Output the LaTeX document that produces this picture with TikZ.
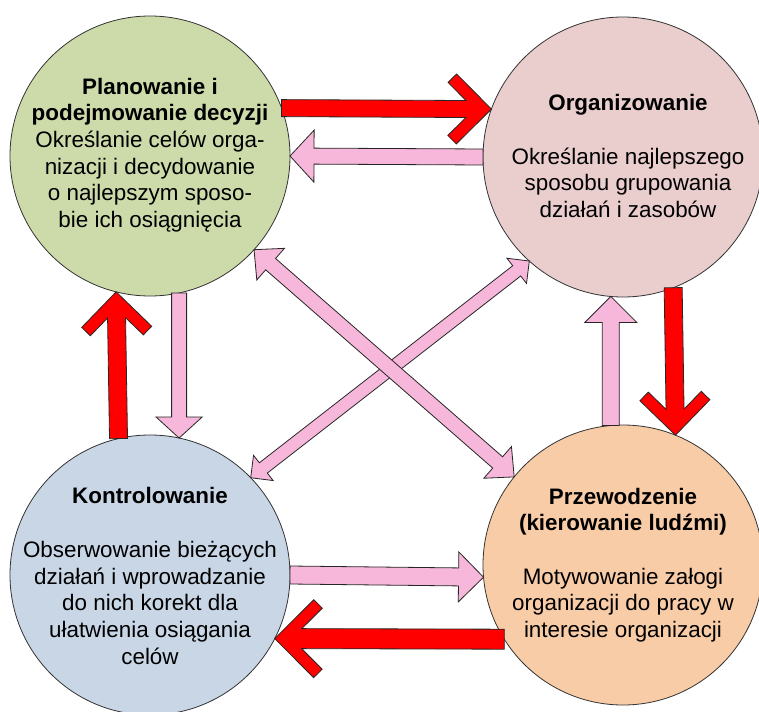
\documentclass[tikz,border=0pt]{standalone}
\usepackage{fontspec}
\setmainfont{Liberation Sans}
\usetikzlibrary{calc}

\definecolor{planfill}{RGB}{205,218,170}
\definecolor{orgfill}{RGB}{234,206,206}
\definecolor{ctrlfill}{RGB}{200,214,230}
\definecolor{leadfill}{RGB}{249,204,168}
\definecolor{arrowpink}{RGB}{247,183,218}
\definecolor{arrowred}{RGB}{255,0,0}

% Reads the two end points of a connector: tip position, direction and length
\newcommand\arrowframe[2]{%
  \path (#1); \pgfgetlastxy{\arrXa}{\arrYa}%
  \path (#2); \pgfgetlastxy{\arrXb}{\arrYb}%
  \pgfmathsetmacro\arrang{atan2(\arrYb-\arrYa,\arrXb-\arrXa)}%
  \pgfmathsetmacro\arrlen{100*veclen((\arrXb-\arrXa)/100,(\arrYb-\arrYa)/100)}%
}

% Thick arrow with an open chevron head: from, to, arm reach, arm offset, shaft half width
\newcommand\chevronarrow[5]{%
  \arrowframe{#1}{#2}%
  \begin{scope}[shift={(\arrXb,\arrYb)}, rotate=\arrang]
    \filldraw[redblock] (0pt,0pt) -- (-#3pt,#3pt) -- ({-#3pt-#4pt},{#3pt-#4pt})
      -- ({-2*#4pt-#5pt},#5pt) -- (-\arrlen pt,#5pt) -- (-\arrlen pt,-#5pt)
      -- ({-2*#4pt-#5pt},-#5pt) -- ({-#3pt-#4pt},{-#3pt+#4pt}) -- (-#3pt,-#3pt) -- cycle;
  \end{scope}}

% Block arrow with a triangular head: from, to, head length, head half width, shaft half width
\newcommand\blockarrow[5]{%
  \arrowframe{#1}{#2}%
  \begin{scope}[shift={(\arrXb,\arrYb)}, rotate=\arrang]
    \filldraw[pinkblock] (0pt,0pt) -- (-#3pt,#4pt) -- (-#3pt,#5pt) -- (-\arrlen pt,#5pt)
      -- (-\arrlen pt,-#5pt) -- (-#3pt,-#5pt) -- (-#3pt,-#4pt) -- cycle;
  \end{scope}}

% Block arrow with heads at both ends
\newcommand\dblarrow[5]{%
  \arrowframe{#1}{#2}%
  \begin{scope}[shift={(\arrXb,\arrYb)}, rotate=\arrang]
    \filldraw[pinkblock] (0pt,0pt) -- (-#3pt,#4pt) -- (-#3pt,#5pt)
      -- ({-\arrlen pt+#3pt},#5pt) -- ({-\arrlen pt+#3pt},#4pt) -- (-\arrlen pt,0pt)
      -- ({-\arrlen pt+#3pt},-#4pt) -- ({-\arrlen pt+#3pt},-#5pt)
      -- (-#3pt,-#5pt) -- (-#3pt,-#4pt) -- cycle;
  \end{scope}}

\begin{document}
\begin{tikzpicture}[x=1pt,y=-1pt,
  phase/.style={circle, draw=black!80, line width=0.8pt, minimum size=280pt,
    inner sep=0pt, outer sep=0pt},
  phasetext/.style={align=center, inner sep=0pt,
    font=\fontsize{22.4}{26.7}\selectfont},
  redblock/.style={fill=arrowred, draw=black!85, line width=0.8pt},
  pinkblock/.style={fill=arrowpink, draw=black!85, line width=0.8pt}]
\useasboundingbox (0,0) rectangle (759,711);

% the four functions of management
\node[phase, fill=planfill] (plan) at (150,156) {};
\node[phase, fill=orgfill]  (org)  at (623,157) {};
\node[phase, fill=ctrlfill] (ctrl) at (150,575) {};
\node[phase, fill=leadfill] (lead) at (623,565) {};

\node[phasetext] (plantext) at (150,155) {\textbf{Planowanie i}\\
  \textbf{podejmowanie decyzji}\\ Określanie celów orga-\\ nizacji i decydowanie\\
  o najlepszym sposo-\\ bie ich osiągnięcia};
\node[phasetext] (orgtext) at (628,156) {\textbf{Organizowanie}\\[26.7pt]
  Określanie najlepszego\\ sposobu grupowania\\ działań i zasobów};
\node[phasetext] (ctrltext) at (150,576) {\textbf{Kontrolowanie}\\[26.7pt]
  Obserwowanie bieżących\\ działań i wprowadzanie\\ do nich korekt dla\\
  ułatwienia osiągania\\ celów};
\node[phasetext] (leadtext) at (623,565) {\textbf{Przewodzenie}\\
  \textbf{(kierowanie ludźmi)}\\[26.7pt] Motywowanie załogi\\
  organizacji do pracy w\\ interesie organizacji};

% main cycle (red) and feedback (pink)
\chevronarrow{plan.20}{org.160}{35}{8.5}{8.5}
\blockarrow{org.180}{plan.0}{24}{26}{8}
\chevronarrow{org.-69}{lead.68}{35}{8.5}{9}
\blockarrow{lead.95}{org.265}{26}{26}{8.5}
\chevronarrow{lead.212}{ctrl.-27}{39}{8.5}{10}
\blockarrow{ctrl.0}{lead.185}{25}{25}{9}
\chevronarrow{ctrl.103}{plan.256}{35}{8.5}{9}
\blockarrow{plan.-78}{ctrl.78}{21}{23}{7.5}

% diagonal links
\dblarrow{ctrl.44}{org.228}{16}{16}{6.5}
\dblarrow{plan.-42}{lead.141}{22}{21}{7.5}
\end{tikzpicture}
\end{document}
